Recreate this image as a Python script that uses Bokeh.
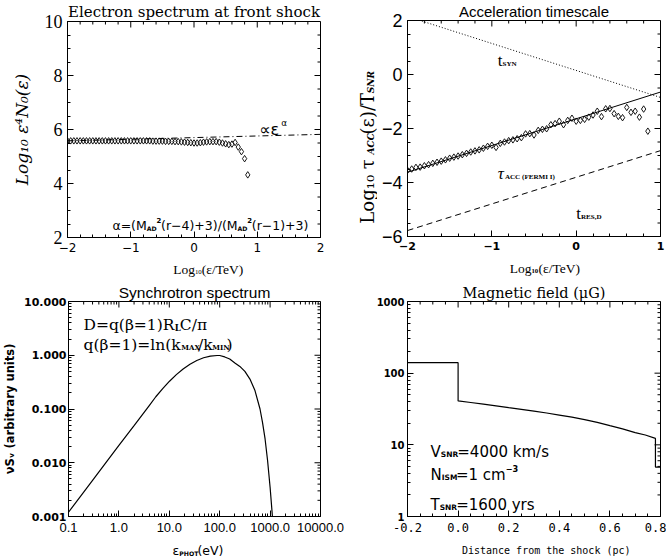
import math
from bokeh.plotting import figure
from bokeh.layouts import row, column
from bokeh.models import (Label, FixedTicker, SingleIntervalTicker, PrintfTickFormatter, Range1d)
from bokeh.embed import file_html
from bokeh.resources import INLINE

# ---------------- data ----------------
# Panel 1: electron spectrum at front shock (log10 eps^4 N0)
spec_x = [-2.00, -1.95, -1.90, -1.85, -1.80, -1.75, -1.70, -1.65, -1.60, -1.55,
          -1.50, -1.45, -1.40, -1.35, -1.30, -1.25, -1.20, -1.15, -1.10, -1.05,
          -1.00, -0.95, -0.90, -0.85, -0.80, -0.75, -0.70, -0.65, -0.60, -0.55,
          -0.50, -0.45, -0.40, -0.35, -0.30, -0.25, -0.20, -0.15, -0.10, -0.05,
          0.00, 0.05, 0.10, 0.15, 0.20, 0.25, 0.30, 0.35, 0.40, 0.45,
          0.50, 0.55, 0.60, 0.65, 0.70, 0.75, 0.80, 0.85]
spec_y = [5.58, 5.58, 5.58, 5.58, 5.58, 5.58, 5.58, 5.58, 5.58, 5.58,
          5.58, 5.58, 5.58, 5.58, 5.58, 5.58, 5.58, 5.58, 5.58, 5.58,
          5.58, 5.58, 5.58, 5.58, 5.58, 5.58, 5.58, 5.57, 5.57, 5.57,
          5.57, 5.56, 5.56, 5.56, 5.55, 5.55, 5.54, 5.53, 5.52, 5.51,
          5.50, 5.50, 5.51, 5.53, 5.54, 5.55, 5.55, 5.55, 5.53, 5.50,
          5.47, 5.44, 5.46, 5.52, 5.35, 5.18, 4.92, 4.32]
pow_x = [-2.0, 2.0]
pow_y = [5.58, 5.82]

# Panel 2: acceleration timescale
acc_x = list(spec_x)
acc_y = [-3.55, -3.50, -3.44, -3.43, -3.38, -3.34, -3.29, -3.25, -3.21, -3.16,
         -3.10, -3.06, -3.02, -2.97, -2.92, -2.87, -2.83, -2.79, -2.73, -2.66,
         -2.62, -2.70, -2.55, -2.50, -2.45, -2.42, -2.38, -2.34, -2.20, -2.19,
         -2.24, -2.07, -2.03, -2.01, -1.86, -1.82, -1.73, -1.86, -1.70, -1.62,
         -1.73, -1.70, -1.66, -1.58, -1.50, -1.36, -1.56, -1.27, -1.26, -1.45,
         -1.55, -1.60, -1.22, -1.40, -1.36, -1.58, -1.28, -2.10]
fermi_x = [-2.0, 1.0]
fermi_y = [-3.62, -0.65]
syn_x = [-2.0, 1.0]
syn_y = [2.15, -0.85]
res_x = [-2.0, 1.0]
res_y = [-5.78, -2.82]

# Panel 3: synchrotron spectrum (photon energy in eV, nu S_nu arbitrary units)
sync_e = [0.1, 0.316, 1.0, 2.0, 4.0, 5.4, 7.4, 10.1, 13.8, 18.8, 25.7, 35.1, 47.9, 65.3,
          89.0, 100.0, 126.0, 158.0, 200.0, 251.0, 316.0, 398.0, 501.0, 631.0, 708.0,
          794.0, 891.0, 1000.0, 1122.0]
sync_s = [0.0012, 0.0050, 0.021, 0.049, 0.116, 0.169, 0.239, 0.329, 0.436, 0.556, 0.681,
          0.798, 0.897, 0.964, 0.99, 0.99, 0.93, 0.85, 0.72, 0.62, 0.50, 0.36, 0.22,
          0.10, 0.056, 0.028, 0.011, 0.0035, 0.0009]

# Panel 4: magnetic field profile
b_x = [-0.2, 0.0, 0.0, 0.05, 0.1, 0.15, 0.2, 0.25, 0.3, 0.35, 0.4, 0.45, 0.5, 0.55,
       0.6, 0.65, 0.7, 0.74, 0.78, 0.78, 0.8]
b_y = [140, 140, 41, 39, 37, 35, 33, 31.2, 29.5, 27.8, 26, 24.3, 22.5, 20.6,
       18.5, 16.7, 14.8, 13.7, 12.3, 4.9, 4.9]

# tick values / labels
p1_yticks = [2, 4, 6, 8, 10]
p2_yticks = [-6, -4, -2, 0, 2]
p1_xticks = [-2, -1, 0, 1, 2]
p2_xticks = [-2, -1, 0, 1]
p3_xticks = [0.1, 1.0, 10.0, 100.0, 1000.0, 10000.0]
p3_yticks = [0.001, 0.01, 0.1, 1.0, 10.0]
p4_xticks = [-0.2, 0.0, 0.2, 0.4, 0.6, 0.8]
p4_yticks = [1, 10, 100, 1000]

# --------------- text width estimates (em units) ---------------
SANS = {' ': .318, '=': .838, '+': .838, '\u2212': .838, '-': .361, '(': .39, ')': .39,
        '/': .337, '.': .318, ',': .318, '\u2080': .4, '\u2081': .4,
        'A': .684, 'B': .686, 'C': .698, 'D': .770, 'E': .632, 'F': .575, 'G': .775,
        'H': .752, 'I': .295, 'K': .656, 'L': .557, 'M': .863, 'N': .748, 'O': .787,
        'P': .603, 'R': .695, 'S': .635, 'T': .611, 'V': .684, 'X': .685, 'Y': .611,
        'a': .613, 'c': .550, 'e': .615, 'g': .635, 'h': .634, 'i': .278, 'k': .579,
        'l': .278, 'm': .974, 'n': .634, 'o': .612, 'q': .635, 'r': .411, 's': .521,
        't': .392, 'u': .634, 'y': .592, 'b': .635, 'v': .592,
        '\u03b1': .659, '\u03b2': .638, '\u03b5': .541, '\u03c4': .563, '\u03bd': .592,
        '\u03c0': .603, '\u221d': .838}
TIMES = {' ': .25, '=': .564, '+': .564, '\u2212': .564, '-': .333, '(': .333, ')': .333,
         '/': .278, '.': .25, ',': .25,
         'A': .722, 'C': .667, 'D': .722, 'E': .611, 'F': .556, 'H': .722, 'I': .333,
         'K': .722, 'L': .611, 'M': .889, 'N': .722, 'O': .722, 'P': .556, 'R': .667,
         'S': .556, 'T': .611, 'V': .722, 'X': .722, 'Y': .722,
         'a': .444, 'c': .444, 'e': .444, 'g': .5, 'i': .278, 'k': .5, 'l': .278, 'm': .778,
         'n': .5, 'o': .5, 'q': .5, 'r': .333, 's': .389, 't': .278, 'u': .5, 'v': .5, 'y': .5,
         '\u03b1': .55, '\u03b2': .5, '\u03b5': .44, '\u03c4': .42, '\u03bd': .5, '\u03c0': .55}
FAMS = {"DejaVu Sans": (SANS, .636, 1.0), "DejaVu Serif": (SANS, .636, 1.01),
        "Liberation Serif": (TIMES, .5, 1.0)}


def text_w(t, fs, fam, style):
    table, digit, fac = FAMS[fam]
    w = sum(table.get(c, digit if c.isdigit() else .55) for c in t) * fs * fac
    if "bold" in style:
        w *= 1.06
    return w


def rich(p, x, y, parts, fs, fam, xu="data", yu="data", angle=0.0, align="left", sub=0.5):
    scale = {"n": 1.0, "sub": sub, "sup": 0.55}
    shift = {"n": 0.0, "sub": -0.2, "sup": 0.42}
    items = []
    for part in parts:
        t, kind = part[0], part[1]
        style = part[2] if len(part) > 2 else ("bold" if kind == "sub" else "normal")
        size = fs * scale[kind]
        items.append((t, kind, style, size, text_w(t, size, fam, style)))
    total = sum(it[4] for it in items)
    adv = -total / 2 if align == "center" else 0.0
    for t, kind, style, size, w in items:
        dy = shift[kind] * fs
        if angle == 0:
            xo, yo = adv, dy
        else:
            xo, yo = -dy, adv
        p.add_layout(Label(x=x, y=y, x_units=xu, y_units=yu, text=t, angle=angle,
                           x_offset=xo, y_offset=yo, text_font=fam,
                           text_font_size=f"{size:.1f}px", text_font_style=style,
                           text_baseline="alphabetic", text_align="left",
                           text_color="black"))
        adv += w


def style_axis(ax, font, size, fstyle="normal", standoff=5):
    ax.major_tick_in = 6
    ax.major_tick_out = 0
    ax.minor_tick_in = 3
    ax.minor_tick_out = 0
    ax.axis_line_color = "black"
    ax.major_tick_line_color = "black"
    ax.minor_tick_line_color = "black"
    ax.major_label_text_font = font
    ax.major_label_text_font_size = size
    ax.major_label_text_font_style = fstyle
    ax.major_label_text_color = "black"
    ax.major_label_standoff = standoff
    ax.axis_label = None


def set_axis_label(ax, text, font, size, fstyle, standoff):
    ax.axis_label = text
    ax.axis_label_text_font = font
    ax.axis_label_text_font_size = size
    ax.axis_label_text_font_style = fstyle
    ax.axis_label_text_color = "black"
    ax.axis_label_standoff = standoff


def set_title(p, text, font, size):
    p.title.text = text
    p.title.align = "center"
    p.title.text_font = font
    p.title.text_font_size = size
    p.title.text_font_style = "normal"
    p.title.text_color = "black"
    p.title.standoff = 1
    p.title.offset = 0


def make_fig(xr, yr, xlog, ylog, left, right, top, bottom, fw, fh):
    p = figure(x_range=Range1d(*xr), y_range=Range1d(*yr),
               x_axis_type="log" if xlog else "linear",
               y_axis_type="log" if ylog else "linear",
               frame_width=fw, frame_height=fh,
               min_border_left=left, min_border_right=right,
               min_border_top=top, min_border_bottom=bottom,
               output_backend="svg", toolbar_location=None)
    p.xgrid.visible = False
    p.ygrid.visible = False
    p.outline_line_color = "black"
    p.outline_line_width = 1
    p.background_fill_color = "white"
    p.border_fill_color = "white"
    return p


def text_fig(w, h):
    """a blank strip (1 data unit = 1 px) that carries axis labels"""
    f = figure(width=w, height=h, x_range=Range1d(0, w), y_range=Range1d(0, h),
               min_border=0, x_axis_location=None, y_axis_location=None,
               output_backend="svg", toolbar_location=None)
    f.xgrid.visible = False
    f.ygrid.visible = False
    f.outline_line_color = None
    f.background_fill_color = "white"
    f.border_fill_color = "white"
    return f


def box_ticks(p, xr, yr, xmaj, xmin, ymaj, ymin):
    """inward ticks on the top and right frame edges (IDL style box)"""
    for vals, ln in ((xmaj, 6), (xmin, 3)):
        p.ray(x=vals, y=[yr[1]] * len(vals), length=ln, angle=-math.pi / 2,
              length_units="screen", line_color="black", line_width=1)
    for vals, ln in ((ymaj, 6), (ymin, 3)):
        p.ray(x=[xr[1]] * len(vals), y=vals, length=ln, angle=math.pi,
              length_units="screen", line_color="black", line_width=1)


def lin_minors(lo, hi, step, major):
    n = int(round((hi - lo) / step))
    out = [lo + k * step for k in range(n + 1)]
    return [v for v in out if min(abs(v - m) for m in major) > 1e-9]


def log_minors(lo, hi):
    return [k * 10.0 ** d for d in range(lo, hi) for k in range(2, 10)]


def minus_overrides(vals):
    return {v: (str(v).replace('-', '\u2212')) for v in vals}


# column widths 345 / 321, row heights 280 / 276 (page has no margin)

# ================= Panel 1 (top left) =================
r1x, r1y = (-2, 2), (2, 10)
p1 = make_fig(r1x, r1y, False, False, 67, 25, 20, 19, 253, 216)
set_title(p1, "Electron spectrum at front shock", "DejaVu Serif", "15px")
p1.xaxis.ticker = SingleIntervalTicker(interval=1, num_minor_ticks=5)
p1.yaxis.ticker = SingleIntervalTicker(interval=2, num_minor_ticks=4)
style_axis(p1.xaxis[0], "DejaVu Sans", "12px")
style_axis(p1.yaxis[0], "Liberation Serif", "18px")
set_axis_label(p1.yaxis[0], "Log\u2081\u2080 \u03b5\u2074N\u2080(\u03b5)", "DejaVu Serif",
               "17px", "italic", 10)
p1.xaxis.major_label_overrides = minus_overrides(p1_xticks)
p1.yaxis.major_label_overrides = minus_overrides(p1_yticks)
box_ticks(p1, r1x, r1y, p1_xticks, lin_minors(-2, 2, 0.2, p1_xticks),
          p1_yticks, lin_minors(2, 10, 0.5, p1_yticks))
p1.line(pow_x, pow_y, line_color="black", line_width=1, line_dash="6 3 1 3")
p1.scatter(spec_x, spec_y, marker="diamond", size=6.5, fill_color=None,
           line_color="black", line_width=0.9)
rich(p1, 1.03, 6.0, [("\u221d\u03b5", "n"), ("\u03b1", "sup", "normal")], 16, "DejaVu Sans")
rich(p1, -1.29, 2.44, [("\u03b1=(M", "n"), ("AD", "sub"), ("2", "sup", "bold"),
                       ("(r\u22124)+3)/(M", "n"), ("AD", "sub"), ("2", "sup", "bold"),
                       ("(r\u22121)+3)", "n")], 12.5, "DejaVu Sans")

x1 = text_fig(345, 25)
rich(x1, 195, 12, [("Log", "n"), ("10", "sub", "normal"), (" (\u03b5/TeV)", "n")],
     13.5, "Liberation Serif", align="center")
block1 = column(p1, x1)

# ================= Panel 2 (top right) =================
r2x, r2y = (-2, 1), (-6, 2)
p2 = make_fig(r2x, r2y, False, False, 30, 6, 20, 19, 253, 216)
set_title(p2, "Acceleration timescale", "Liberation Sans", "15px")
p2.xaxis.ticker = SingleIntervalTicker(interval=1, num_minor_ticks=5)
p2.yaxis.ticker = SingleIntervalTicker(interval=2, num_minor_ticks=4)
style_axis(p2.xaxis[0], "DejaVu Sans", "11px", "bold")
style_axis(p2.yaxis[0], "Liberation Sans", "18px")
p2.xaxis.major_label_overrides = minus_overrides(p2_xticks)
p2.yaxis.major_label_overrides = minus_overrides(p2_yticks)
box_ticks(p2, r2x, r2y, p2_xticks, lin_minors(-2, 1, 0.2, p2_xticks),
          p2_yticks, lin_minors(-6, 2, 0.5, p2_yticks))
p2.line(syn_x, syn_y, line_color="black", line_width=1, line_dash="1 2")
p2.line(fermi_x, fermi_y, line_color="black", line_width=1)
p2.line(res_x, res_y, line_color="black", line_width=1, line_dash="6 4")
p2.scatter(acc_x, acc_y, marker="diamond", size=6.5, fill_color=None,
           line_color="black", line_width=0.9)
rich(p2, -0.93, 0.52, [("t", "n"), ("SYN", "sub")], 17, "Liberation Serif", sub=0.42)
rich(p2, -0.93, -3.67, [("\u03c4", "n", "italic"), (" ACC (FERMI I)", "sub")], 17,
     "Liberation Serif", sub=0.42)
rich(p2, 0.0, -5.15, [("t", "n"), ("RES,D", "sub")], 17, "Liberation Serif", sub=0.42)

y2 = text_fig(32, 255)
rich(y2, 22, 104, [("Log\u2081\u2080  \u03c4", "n"), ("ACC", "sub", "bold italic"),
                   ("(\u03b5)/T", "n"), ("SNR", "sub", "bold italic")],
     18, "DejaVu Serif", angle=math.pi / 2, align="center")
x2 = text_fig(321, 25)
rich(x2, 200, 12, [("Log", "n"), ("10", "sub", "bold"), ("(\u03b5/TeV)", "n")],
     13.5, "Liberation Serif", align="center")
block2 = column(row(y2, p2), x2)

# ================= Panel 3 (bottom left) =================
r3x, r3y = (0.1, 10000), (0.001, 10)
p3 = make_fig(r3x, r3y, True, True, 68, 25, 20, 22, 252, 215)
set_title(p3, "Synchrotron spectrum", "Liberation Sans", "15.5px")
p3.xaxis.ticker = FixedTicker(ticks=p3_xticks, minor_ticks=log_minors(-1, 4))
p3.yaxis.ticker = FixedTicker(ticks=p3_yticks, minor_ticks=log_minors(-3, 1))
style_axis(p3.xaxis[0], "Liberation Sans", "13px", standoff=6)
style_axis(p3.yaxis[0], "DejaVu Sans", "11px", "bold", standoff=2)
set_axis_label(p3.yaxis[0], "\u03bdS\u1d65 (arbitrary units)", "DejaVu Sans", "11.5px",
               "bold", 4)
p3.xaxis.formatter = PrintfTickFormatter(format="%.1f")
p3.yaxis.formatter = PrintfTickFormatter(format="%.3f")
box_ticks(p3, r3x, r3y, p3_xticks, log_minors(-1, 4), p3_yticks, log_minors(-3, 1))
p3.line(sync_e, sync_s, line_color="black", line_width=1.2)
rich(p3, 15, 192, [("D=q(\u03b2=1)R", "n"), ("L", "sub"), ("C/\u03c0", "n")],
     15.5, "DejaVu Serif", "screen", "screen", sub=0.55)
rich(p3, 15, 172, [("q(\u03b2=1)=ln(k", "n"), ("MAX", "sub"), ("/k", "n"), ("MIN", "sub"),
                   (")", "n")], 15.5, "DejaVu Serif", "screen", "screen", sub=0.45)

x3 = text_fig(345, 19)
rich(x3, 180, 7, [("\u03b5", "n"), ("PHOT", "sub"), (" (eV)", "n")],
     12.5, "DejaVu Sans", align="center")
block3 = column(p3, x3)

# ================= Panel 4 (bottom right) =================
r4x, r4y = (-0.2, 0.8), (1, 1000)
p4 = make_fig(r4x, r4y, False, True, 62, 6, 20, 22, 253, 215)
set_title(p4, "Magnetic field (\u03bcG)", "DejaVu Serif", "14.5px")
p4.xaxis.ticker = SingleIntervalTicker(interval=0.2, num_minor_ticks=4)
p4.yaxis.ticker = FixedTicker(ticks=p4_yticks, minor_ticks=log_minors(0, 3))
style_axis(p4.xaxis[0], "DejaVu Sans Mono", "12px", standoff=6)
style_axis(p4.yaxis[0], "DejaVu Sans", "10px", "bold", standoff=3)
p4.xaxis.formatter = PrintfTickFormatter(format="%.1f")
p4.yaxis.formatter = PrintfTickFormatter(format="%d")
box_ticks(p4, r4x, r4y, p4_xticks, lin_minors(-0.2, 0.8, 0.05, p4_xticks),
          p4_yticks, log_minors(0, 3))
p4.line(b_x, b_y, line_color="black", line_width=1.2)
rich(p4, 23, 65, [("V", "n"), ("SNR", "sub"), ("=4000 km/s", "n")], 15, "DejaVu Sans",
     "screen", "screen")
rich(p4, 23, 42, [("N", "n"), ("ISM", "sub"), ("=1 cm", "n"), ("\u22123", "sup", "bold")],
     15, "DejaVu Sans", "screen", "screen")
rich(p4, 23, 12, [("T", "n"), ("SNR", "sub"), ("=1600 yrs", "n")], 15, "DejaVu Sans",
     "screen", "screen")

x4 = text_fig(321, 19)
x4.add_layout(Label(x=176, y=7, text="Distance from the shock (pc)", text_align="center",
                    text_baseline="alphabetic", text_font="DejaVu Sans Mono",
                    text_font_size="10px", text_color="black"))
block4 = column(p4, x4)

layout = column(row(block1, block2), row(block3, block4))
open("out.html", "w").write(file_html(layout, INLINE))
